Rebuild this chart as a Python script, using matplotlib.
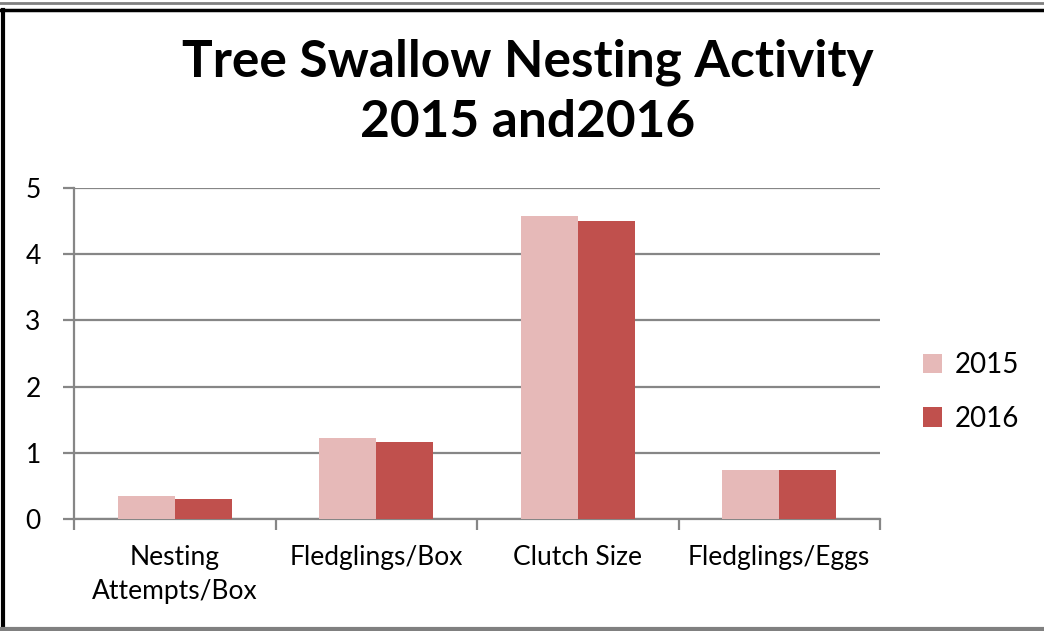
import matplotlib
matplotlib.use("Agg")
import matplotlib.pyplot as plt
from matplotlib.lines import Line2D
from matplotlib.patches import Patch
import numpy as np

categories = ["Nesting\nAttempts/Box", "Fledglings/Box", "Clutch Size", "Fledglings/Eggs"]
series_names = ["2015", "2016"]
values_2015 = [0.34, 1.22, 4.58, 0.74]
values_2016 = [0.30, 1.16, 4.50, 0.74]
colors = ["#E6B9B8", "#C0504D"]
yticks = [0, 1, 2, 3, 4, 5]

plt.rcParams['font.family'] = ['Lato', 'DejaVu Sans']

fig = plt.figure(figsize=(10.44, 6.31), dpi=100)
ax = fig.add_axes([74/1044, 112/631, 806/1044, 331/631])

x = np.arange(len(categories))
w = 0.284
ax.bar(x - w/2, values_2015, w, color=colors[0], zorder=3)
ax.bar(x + w/2, values_2016, w, color=colors[1], zorder=3)

ax.set_xlim(-0.5, len(categories) - 0.5)
ax.set_ylim(0, 5)
ax.set_yticks(yticks)
ax.set_yticklabels([str(t) for t in yticks], fontsize=19)
ax.yaxis.grid(True, color="#868686", linewidth=1.6, zorder=0)
ax.set_axisbelow(True)

ax.set_xticks(np.arange(len(categories) + 1) - 0.5)
ax.set_xticklabels([])
ax.set_xticks(x, minor=True)
ax.set_xticklabels(categories, minor=True, fontsize=19, linespacing=1.45)
ax.tick_params(axis='x', which='minor', length=0, pad=19)
ax.tick_params(axis='x', which='major', length=8, width=1.6, color="#868686")
ax.tick_params(axis='y', length=8, width=1.6, color="#868686", pad=16)

for s in ["top", "right"]:
    ax.spines[s].set_visible(False)
for s in ["left", "bottom"]:
    ax.spines[s].set_color("#868686")
    ax.spines[s].set_linewidth(1.6)

fig.text(528/1044, 1 - 62/631, "Tree Swallow Nesting Activity", ha="center", va="center",
         fontsize=37, fontweight="bold")
fig.text(528/1044, 1 - 122/631, "2015 and2016", ha="center", va="center",
         fontsize=37, fontweight="bold")

handles = [Patch(facecolor=c, edgecolor="none") for c in colors]
fig.legend(handles, series_names, loc="center left", bbox_to_anchor=(898/1044, 1 - 392/631),
           frameon=False, fontsize=20, handlelength=0.7, handleheight=0.7,
           labelspacing=1.0, handletextpad=0.45)

# chart frame borders
fig.add_artist(Line2D([0, 1], [1 - 3/631, 1 - 3/631], transform=fig.transFigure, color="#808080", lw=2))
fig.add_artist(Line2D([0, 1], [1 - 10/631, 1 - 10/631], transform=fig.transFigure, color="black", lw=2.5))
fig.add_artist(Line2D([3/1044, 3/1044], [4/631, 1 - 10/631], transform=fig.transFigure, color="black", lw=3))
fig.add_artist(Line2D([0, 1], [2/631, 2/631], transform=fig.transFigure, color="#808080", lw=3))

fig.savefig("out.png", dpi=100)
